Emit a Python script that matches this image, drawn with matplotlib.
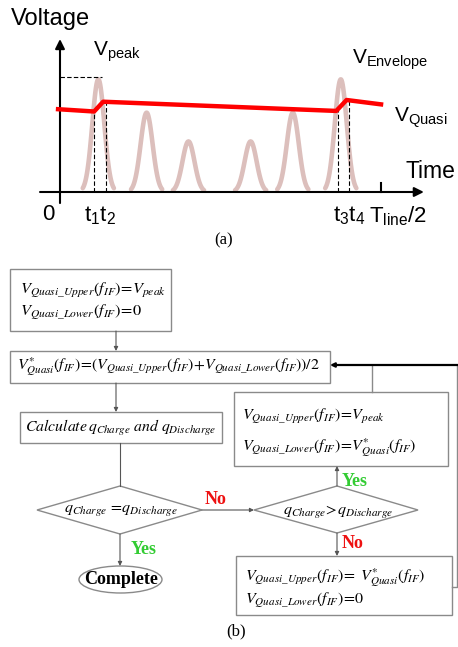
import numpy as np
import matplotlib.pyplot as plt
import matplotlib.patches as mpatches

plt.rcParams['mathtext.fontset'] = 'custom'
plt.rcParams['mathtext.rm'] = 'Liberation Sans'
plt.rcParams['mathtext.it'] = 'Liberation Sans:italic'
plt.rcParams['mathtext.bf'] = 'Liberation Sans:bold'

# (a) waveform data, time normalised to T_line/2, voltage normalised to V_peak
pulse_t = [0.119, 0.269, 0.399, 0.592, 0.723, 0.872]
pulse_v = [0.98, 0.69, 0.44, 0.44, 0.69, 0.98]
pulse_w = 0.0186

quasi_t = [-0.006, 0.106, 0.134, 0.858, 0.890, 0.997]
quasi_v = [0.72, 0.70, 0.785, 0.705, 0.80, 0.762]

mark_t = [0.107, 0.143, 0.862, 0.897]

# (b) flowchart texts
box1_txt = [r'$V_{Quasi\_Upper}(f_{IF})\!=\!V_{peak}$', r'$V_{Quasi\_Lower}(f_{IF})\!=\!0$']
box2_txt = r'$V^{*}_{Quasi}(f_{IF})\!=\!(V_{Quasi\_Upper}(f_{IF})\!+\!V_{Quasi\_Lower}(f_{IF}))/2$'
box3_txt = r'$Calculate\,q_{Charge}\ and\ q_{Discharge}$'
box4_txt = [r'$V_{Quasi\_Upper}(f_{IF})\!=\!V_{peak}$', r'$V_{Quasi\_Lower}(f_{IF})\!=\!V^{*}_{Quasi}(f_{IF})$']
box5_txt = [r'$V_{Quasi\_Upper}(f_{IF})\!=\ V^{*}_{Quasi}(f_{IF})$', r'$V_{Quasi\_Lower}(f_{IF})\!=\!0$']
dia1_txt = r'$q_{Charge}\ \!=\!q_{Discharge}$'
dia2_txt = r'$q_{Charge}\!>\!q_{Discharge}$'

W, H = 458, 647
fig = plt.figure(figsize=(W / 100, H / 100), dpi=100)
ax = fig.add_axes([0, 0, 1, 1])
ax.set_xlim(0, W)
ax.set_ylim(H, 0)
ax.axis('off')

# part (a) axes: t=0 at x=60px, t=1 at x=382px; V=0 at y=192px, V=1 at y=77px
ax_a = fig.add_axes([0, (H - 250) / H, 1, 250 / H])
ax_a.set_xlim(-60 / 322, (W - 60) / 322)
ax_a.set_ylim((192 - 250) / 115, 192 / 115)
ax_a.axis('off')
ax_a.patch.set_alpha(0)

for c, h in zip(pulse_t, pulse_v):
    tt = np.linspace(c - 2.6 * pulse_w, c + 2.6 * pulse_w, 60)
    ax_a.plot(tt, h * np.exp(-(tt - c) ** 2 / (2 * pulse_w ** 2)), color='#dcbfbc', lw=3.3, zorder=2,
              solid_capstyle='round')

ax_a.plot(quasi_t, quasi_v, color='#ff0000', lw=3.2, zorder=4)

arr = dict(arrowstyle='-|>', color='black', lw=1.5, mutation_scale=14, shrinkA=0, shrinkB=0)
ax_a.annotate('', xy=(1.13, 0), xytext=(-0.062, 0), arrowprops=arr, zorder=3)
ax_a.annotate('', xy=(0, 1.33), xytext=(0, -0.096), arrowprops=arr, zorder=3)
ax_a.plot([0.997, 0.997], [0, 0.08], color='black', lw=1.5, zorder=3)

ax_a.plot([0, 0.13], [1.0, 1.0], color='black', lw=0.8, ls=(0, (4, 2)), zorder=3)
for t in mark_t:
    ax_a.plot([t, t], [0, np.interp(t, quasi_t, quasi_v)], color='black', lw=0.8, ls=(0, (4, 2)), zorder=3)

sans = 'Liberation Sans'
ax.text(11, 19, 'Voltage', fontsize=17, family=sans, va='center', ha='left')
ax.text(93, 52, r'$\mathrm{V_{peak}}$', fontsize=15, family=sans, va='center')
ax.text(352, 60, r'$\mathrm{V_{Envelope}}$', fontsize=15, family=sans, va='center')
ax.text(394, 118, r'$\mathrm{V_{Quasi}}$', fontsize=15, family=sans, va='center')
ax.text(406, 172, 'Time', fontsize=16.5, family=sans, va='center')
ax.text(42, 214, '0', fontsize=16, family=sans, va='center')
ax.text(84, 216, r'$\mathrm{t_1t_2}$', fontsize=16, family=sans, va='center')
ax.text(333, 216, r'$\mathrm{t_3t_4}$', fontsize=16, family=sans, va='center')
ax.text(369, 216, r'$\mathrm{T_{line}/2}$', fontsize=16, family=sans, va='center')
ax.text(224, 240, '(a)', fontsize=12, family='Liberation Serif', va='center', ha='center')

# part (b) flowchart
ec = '#8a8a8a'


def box(x0, x1, y0, y1):
    ax.add_patch(mpatches.Rectangle((x0, y0), x1 - x0, y1 - y0, fill=False, ec=ec, lw=1))


def mtxt(x, y, s, size=11.5, ha='left'):
    ax.text(x, y, s, fontsize=size, ha=ha, va='center', math_fontfamily='stix')


def arrow(p0, p1, color='#555555', lw=0.8):
    ax.annotate('', xy=p1, xytext=p0,
                arrowprops=dict(arrowstyle='-|>', color=color, lw=lw, mutation_scale=6, shrinkA=0, shrinkB=0))


box(10, 171, 269, 331)
mtxt(20, 290, box1_txt[0], size=11.8)
mtxt(20, 312, box1_txt[1], size=11.8)
arrow((116, 331), (116, 351))

box(10, 330, 351, 383)
mtxt(17, 367, box2_txt, size=11.3)
arrow((116, 383), (116, 412))

box(20, 222, 412, 443)
mtxt(25, 428, box3_txt, size=11.3)
ax.plot([120, 120], [443, 486], color='#555555', lw=0.8)

ax.add_patch(mpatches.Polygon([(37, 510), (120, 486), (202, 510), (120, 534)], closed=True, fill=False, ec=ec, lw=1))
mtxt(121, 511, dia1_txt, ha='center')
arrow((120, 534), (120, 566))
ax.add_patch(mpatches.Ellipse((120.5, 579.5), 83, 27, fill=False, ec=ec, lw=1))
ax.text(121, 580, 'Complete', fontsize=13, family='Liberation Serif', weight='bold', ha='center', va='center')
ax.text(131, 549, 'Yes', fontsize=13, family='Liberation Serif', weight='bold', color='#33cc33', va='center')

arrow((202, 510), (254, 510))
ax.text(205, 499, 'No', fontsize=13, family='Liberation Serif', weight='bold', color='#ee1111', va='center')

ax.add_patch(mpatches.Polygon([(254, 510), (337, 486), (418, 510), (337, 533)], closed=True, fill=False, ec=ec, lw=1))
mtxt(338, 511, dia2_txt, ha='center')
arrow((337, 486), (337, 466))
ax.text(342, 482, 'Yes', fontsize=13, family='Liberation Serif', weight='bold', color='#33cc33', va='center')
arrow((337, 533), (337, 556))
ax.text(342, 544, 'No', fontsize=13, family='Liberation Serif', weight='bold', color='#ee1111', va='center')

box(234, 448, 392, 466)
mtxt(242, 417, box4_txt[0])
mtxt(242, 448, box4_txt[1])
ax.plot([372, 372], [392, 365], color=ec, lw=1)

box(236, 452, 556, 615)
mtxt(245, 578, box5_txt[0])
mtxt(245, 601, box5_txt[1])

ax.plot([452, 457, 457], [587, 587, 365], color=ec, lw=1)
arrow((458, 365), (330, 365), color='black', lw=1.6)
ax.text(236, 631, '(b)', fontsize=12, family='Liberation Serif', ha='center', va='center')

fig.savefig('out.png', dpi=100)
